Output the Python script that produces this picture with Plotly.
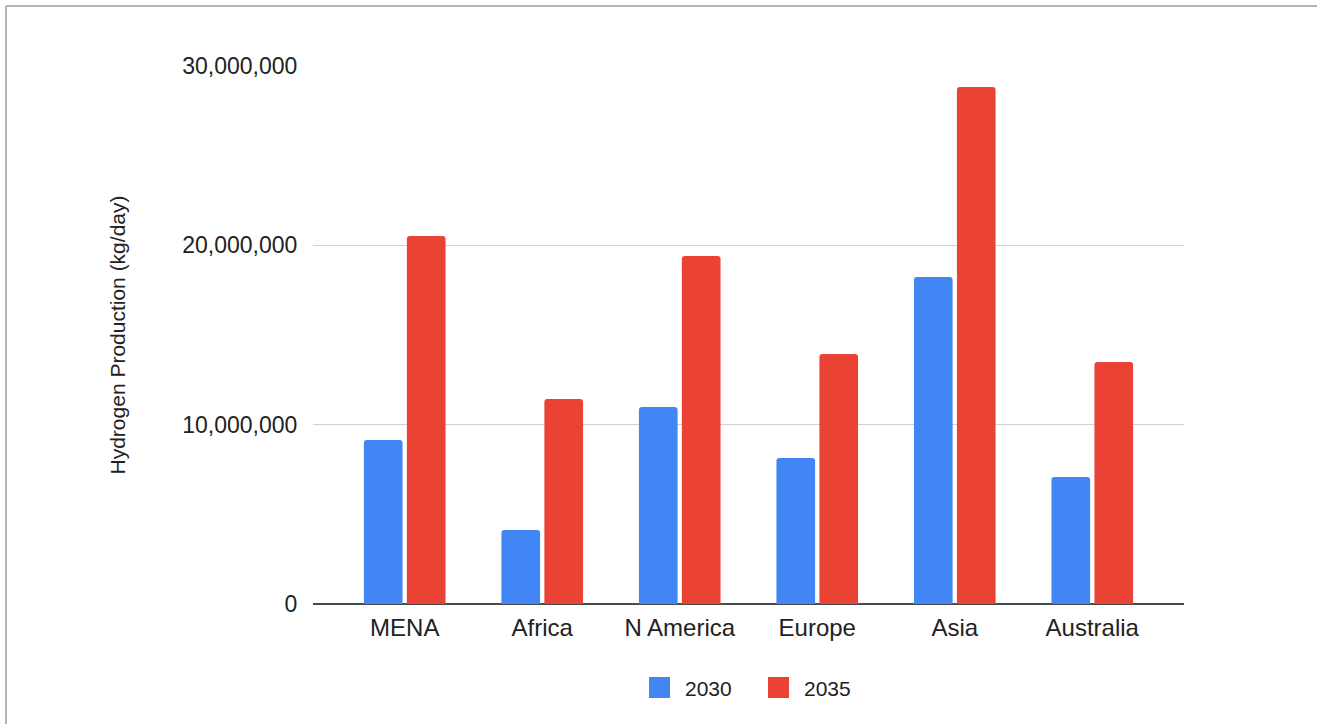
import plotly.graph_objects as go

regions = ["MENA", "Africa", "N America", "Europe", "Asia", "Australia"]
prod_2030 = [9150000, 4130000, 10990000, 8140000, 18240000, 7080000]
prod_2035 = [20520000, 11430000, 19400000, 13940000, 28830000, 13500000]
series_names = ["2030", "2035"]
series_colors = ["#4285F4", "#EA4335"]
y_ticks = [0, 10000000, 20000000, 30000000]
y_tick_text = ["0", "10,000,000", "20,000,000", "30,000,000"]

FONT = "Liberation Sans, Arial, Helvetica, sans-serif"
W, H = 1317, 724
M_L, M_R, M_T, M_B = 313, 133, 66, 120
pw = W - M_L - M_R
ph = H - M_T - M_B


def px_x(px):
    return (px - M_L) / pw


def px_y(py):
    return (H - M_B - py) / ph


fig = go.Figure()
for name, vals, col in zip(series_names, [prod_2030, prod_2035], series_colors):
    fig.add_trace(go.Bar(name=name, x=regions, y=vals, showlegend=False,
                         marker=dict(color=col, line=dict(width=0), cornerradius=3)))

# outer frame (top and left edges)
fig.add_shape(type="line", xref="paper", yref="paper", x0=px_x(6), x1=px_x(W + 10),
              y0=px_y(6), y1=px_y(6), line=dict(color="#b4b4b4", width=2))
fig.add_shape(type="line", xref="paper", yref="paper", x0=px_x(6), x1=px_x(6),
              y0=px_y(6), y1=px_y(H + 10), line=dict(color="#b4b4b4", width=2))

# legend: colour swatches with labels, centred under the plot
legend_items = [(649, 683), (768, 802)]
for (sx, tx), name, col in zip(legend_items, series_names, series_colors):
    fig.add_shape(type="rect", xref="paper", yref="paper",
                  x0=px_x(sx), x1=px_x(sx + 21), y0=px_y(677), y1=px_y(698),
                  fillcolor=col, line=dict(width=0))
    fig.add_annotation(xref="paper", yref="paper", x=px_x(tx), y=px_y(688),
                       xanchor="left", yanchor="middle", text=name, showarrow=False,
                       font=dict(family=FONT, size=21, color="#222222"))

fig.update_layout(
    width=W, height=H,
    margin=dict(l=M_L, r=M_R, t=M_T, b=M_B, pad=0),
    paper_bgcolor="white", plot_bgcolor="white",
    barmode="group", bargap=0.375, bargroupgap=0.1,
    font=dict(family=FONT, color="#222222", size=23),
    showlegend=False,
    xaxis=dict(range=[-0.667, 5.667], showgrid=False, showline=False,
               ticks="outside", ticklen=2, tickcolor="rgba(0,0,0,0)",
               tickfont=dict(size=24, color="#222222")),
    yaxis=dict(range=[0, 30000000], tickvals=y_ticks, ticktext=y_tick_text,
               showgrid=True, gridcolor="#d0d0d0", gridwidth=1,
               zeroline=True, zerolinecolor="#4a4a4a", zerolinewidth=2,
               showline=False, ticks="outside", ticklen=10, tickcolor="rgba(0,0,0,0)",
               tickfont=dict(size=23, color="#222222"),
               title=dict(text="Hydrogen Production (kg/day)", standoff=50,
                          font=dict(size=21, color="#222222"))),
)

fig.write_html("out.html")
